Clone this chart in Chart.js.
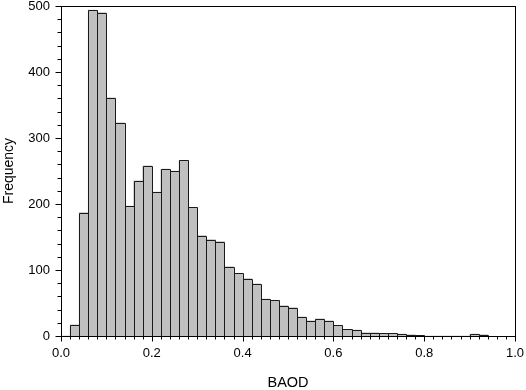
<!DOCTYPE html>
<html>
<head>
<meta charset="utf-8">
<script src="https://cdn.jsdelivr.net/npm/chart.js@4.4.1/dist/chart.umd.min.js"></script>
<style>
  html, body { margin: 0; padding: 0; background: #fff; }
  canvas { display: block; }
</style>
</head>
<body>
<canvas id="histChart" width="526" height="390"></canvas>
<script>
/* ================= Data ================= */

const binWidth = 0.02;
const binStarts = [
  0.00, 0.02, 0.04, 0.06, 0.08, 0.10, 0.12, 0.14, 0.16, 0.18,
  0.20, 0.22, 0.24, 0.26, 0.28, 0.30, 0.32, 0.34, 0.36, 0.38,
  0.40, 0.42, 0.44, 0.46, 0.48, 0.50, 0.52, 0.54, 0.56, 0.58,
  0.60, 0.62, 0.64, 0.66, 0.68, 0.70, 0.72, 0.74, 0.76, 0.78,
  0.80, 0.82, 0.84, 0.86, 0.88, 0.90, 0.92
];
const frequency = [
  0, 17, 187, 494, 490, 361, 323, 197, 235, 258,
  218, 253, 250, 266, 195, 152, 146, 143, 105, 95,
  87, 79, 56, 54, 46, 43, 29, 23, 26, 23,
  16, 10, 9, 5, 5, 4, 4, 3, 2, 1,
  0, 0, 0, 0, 0, 3, 2
];
const xTickValues = [0, 0.2, 0.4, 0.6, 0.8, 1.0];
const yTickValues = [0, 100, 200, 300, 400, 500];

/* ================= Frame, ticks, bar outlines ================= */

const frame = {
  id: "frame",
  afterDatasetsDraw(chart) {
    const ctx = chart.ctx;
    const meta = chart.getDatasetMeta(0);
    ctx.save();
    ctx.strokeStyle = "#1a1a1a";
    ctx.lineWidth = 1;
    meta.data.forEach(function (bar, i) {
      if (!frequency[i]) return;
      const p = bar.getProps(["x", "y", "base", "width"], true);
      const l = Math.round(p.x - p.width / 2) + 0.5;
      const r = Math.round(p.x + p.width / 2) + 0.5;
      const t = Math.round(p.y) + 0.5;
      const b = Math.round(p.base) + 0.5;
      ctx.beginPath();
      ctx.moveTo(l, b);
      ctx.lineTo(l, t);
      ctx.lineTo(r, t);
      ctx.lineTo(r, b);
      ctx.stroke();
    });
    ctx.restore();
  },
  afterDraw(chart) {
    const { ctx, chartArea: a, scales } = chart;
    const L = Math.round(a.left) + 0.5;
    const R = Math.round(a.right) + 0.5;
    const T = Math.round(a.top) + 0.5;
    const B = Math.round(a.bottom) + 0.5;
    ctx.save();
    ctx.strokeStyle = "#000";
    ctx.lineWidth = 1;
    ctx.strokeRect(L, T, R - L, B - T);

    ctx.beginPath();
    // x ticks (major every 0.2, minor every 0.02)
    for (let k = 0; k <= 50; k++) {
      const px = Math.round(scales.x.getPixelForValue(k * binWidth)) + 0.5;
      const len = k % 10 === 0 ? 5 : 3;
      ctx.moveTo(px, B);
      ctx.lineTo(px, B + len);
    }
    // y ticks (major every 100, minor every 20)
    for (let k = 0; k <= 25; k++) {
      const py = Math.round(scales.y.getPixelForValue(k * 20)) + 0.5;
      const len = k % 5 === 0 ? 6 : 4;
      ctx.moveTo(L, py);
      ctx.lineTo(L - len, py);
    }
    ctx.stroke();
    ctx.restore();
  },
};

/* ================= Histogram ================= */

const ctx = document.getElementById("histChart");

new Chart(ctx, {
  type: "bar",
  data: {
    datasets: [
      {
        label: "Frequency",
        data: binStarts.map(function (s, i) {
          return { x: s + binWidth / 2, y: frequency[i] };
        }),
        backgroundColor: "#c0c0c0",
        borderWidth: 0,
        barPercentage: 1,
        categoryPercentage: 1,
      },
    ],
  },
  options: {
    responsive: false,
    animation: false,
    devicePixelRatio: 1,
    layout: { padding: { top: 6, right: 11, left: 0, bottom: 0 } },
    plugins: {
      legend: { display: false },
      tooltip: { enabled: false },
    },
    scales: {
      x: {
        type: "linear",
        offset: false,
        min: 0,
        max: 1,
        afterBuildTicks(scale) {
          scale.ticks = xTickValues.map(function (v) { return { value: v }; });
        },
        ticks: {
          padding: 10,
          color: "#000",
          font: { family: "Liberation Sans", size: 13 },
          callback: function (v) { return Number(v).toFixed(1); },
        },
        grid: { display: false, drawTicks: false },
        border: { display: false },
        title: {
          display: true,
          text: "BAOD",
          color: "#000",
          font: { family: "Liberation Sans", size: 14.5 },
          padding: { top: 0, bottom: -2 },
        },
        afterFit(scale) {
          scale.height = 54;
          scale.paddingLeft = 0;
          scale.paddingRight = 0;
        },
      },
      y: {
        min: 0,
        max: 500,
        afterBuildTicks(scale) {
          scale.ticks = yTickValues.map(function (v) { return { value: v }; });
        },
        ticks: {
          padding: 11,
          color: "#000",
          font: { family: "Liberation Sans", size: 13 },
        },
        grid: { display: false, drawTicks: false },
        border: { display: false },
        title: {
          display: true,
          text: "Frequency",
          color: "#000",
          font: { family: "Liberation Sans", size: 14 },
          padding: { top: 1, bottom: 0 },
        },
        afterFit(scale) {
          scale.width = 61;
          scale.paddingTop = 0;
          scale.paddingBottom = 0;
        },
      },
    },
  },
  plugins: [frame],
});
</script>
</body>
</html>
